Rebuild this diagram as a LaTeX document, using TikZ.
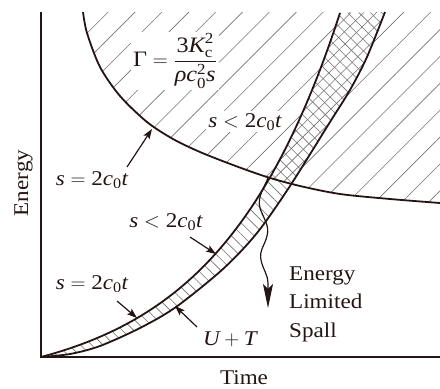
\documentclass[tikz,border=0pt]{standalone}
\usepackage{amsmath}
\usepackage{fontspec}
\setmainfont{Liberation Serif}[FakeStretch=1.1]
\usetikzlibrary{arrows.meta,patterns.meta}
\definecolor{ink}{RGB}{36,20,20}
\definecolor{hatch}{RGB}{115,115,115}
\newcommand\vi[1]{\text{\itshape #1}}
\begin{document}
\begin{tikzpicture}[x=1pt,y=-1pt,font=\fontsize{21}{26}\selectfont,
  curve/.style={draw=ink,line width=1.8pt},
  axis/.style={draw=ink,line width=2.2pt},
  lbl/.style={inner sep=0pt,text=ink},
  bglbl/.style={inner sep=2pt,text=ink,fill=white},
  ptr/.style={draw=ink,line width=1.2pt,-{Stealth[length=10pt,width=7pt,inset=2pt]}},
  bigptr/.style={draw=ink,line width=1.2pt,-{Stealth[length=24pt,width=10pt,inset=5pt]}},
  hatchlines/.style={pattern color=hatch}]
\useasboundingbox (0,0) rectangle (440,389);
\def\hypc{plot[smooth] coordinates {(83,12) (87,33) (100,67) (120,96) (147,122) (173,139) (200,152) (233,165) (267,177) (300,186) (340,194) (390,199) (440,203)}}
\def\gamc{\hypc -- (440,12) -- cycle}
\def\upc{plot[domain=0:299,samples=80,smooth] ({41+\x},{357-32.5*(exp(0.0082*\x)-1)})}
\def\lowc{plot[smooth] coordinates {(41,357) (70,354) (100,346) (140,328) (176,307) (223,269) (257,233) (290,186) (330,122) (350,90) (367,57) (385,12)}}
\def\lowrevc{-- plot[smooth] coordinates {(385,12) (367,57) (350,90) (330,122) (290,186) (257,233) (223,269) (176,307) (140,328) (100,346) (70,354) (41,357)} -- cycle}
% hatched regions
\path[hatchlines,pattern={Lines[angle=45,distance=19pt,line width=0.6pt]}] \gamc;
\fill[white] \upc \lowrevc;
\path[hatchlines,pattern={Lines[angle=-45,distance=8pt,line width=0.6pt]}] \upc \lowrevc;
\begin{scope}
  \clip \gamc;
  \path[hatchlines,pattern={Lines[angle=45,distance=9pt,line width=0.6pt]}] \upc \lowrevc;
\end{scope}
% curves
\draw[curve] \hypc;
\draw[curve] \upc;
\draw[curve] \lowc;
% axes
\coordinate (top) at (41,12);
\coordinate (O) at (41,357);
\coordinate (xend) at (440,357);
\draw[axis] (top) -- (O) -- (xend);
% axis labels
\node[lbl,rotate=90,anchor=base] (ylab) at (28,183) {Energy};
\node[lbl,anchor=base] (xlab) at (244,384) {Time};
% formula
\node[bglbl,font=\fontsize{22}{26}\selectfont] (gamma) at (175,61) {$\text{Γ}=\dfrac{\text{3}\vi{K}_{\text{c}}^{\text{2}}}{\vi{ρ}\vi{c}_{\text{0}}^{\text{2}}\vi{s}}$};
% labels
\node[bglbl,anchor=base] (l1) at (245,127) {$\vi{s}<\text{2}\vi{c}_{\text{0}}\vi{t}$};
\node[lbl,anchor=base] (l2) at (92,185) {$\vi{s}=\text{2}\vi{c}_{\text{0}}\vi{t}$};
\node[lbl,anchor=base] (l3) at (166,227) {$\vi{s}<\text{2}\vi{c}_{\text{0}}\vi{t}$};
\node[lbl,anchor=base] (l4) at (92,289) {$\vi{s}=\text{2}\vi{c}_{\text{0}}\vi{t}$};
\node[lbl,anchor=base] (l5) at (230,345) {$\vi{U}+\vi{T}$};
\node[lbl,anchor=base west] (e1) at (289,280) {Energy};
\node[lbl,anchor=base west] (e2) at (289,308) {Limited};
\node[lbl,anchor=base west] (e3) at (289,337) {Spall};
% pointer arrows
\coordinate (t2) at (127,167); \coordinate (h2) at (152,129);
\coordinate (t3) at (190,237); \coordinate (h3) at (216,254);
\coordinate (t4) at (117,301); \coordinate (h4) at (137,318);
\coordinate (t5) at (197,327); \coordinate (h5) at (175,306);
\draw[ptr] (t2) -- (h2);
\draw[ptr] (t3) -- (h3);
\draw[ptr] (t4) -- (h4);
\draw[ptr] (t5) -- (h5);
% wavy arrow
\coordinate (cross) at (268,178);
\coordinate (spallend) at (268,308);
\draw[bigptr] (cross) .. controls (264,188) and (257,197) .. (260,208)
  .. controls (263,218) and (270,225) .. (267,236)
  .. controls (265,245) and (259,250) .. (261,260)
  .. controls (263,270) and (268,274) .. (268,284) -- (spallend);
\end{tikzpicture}
\end{document}
